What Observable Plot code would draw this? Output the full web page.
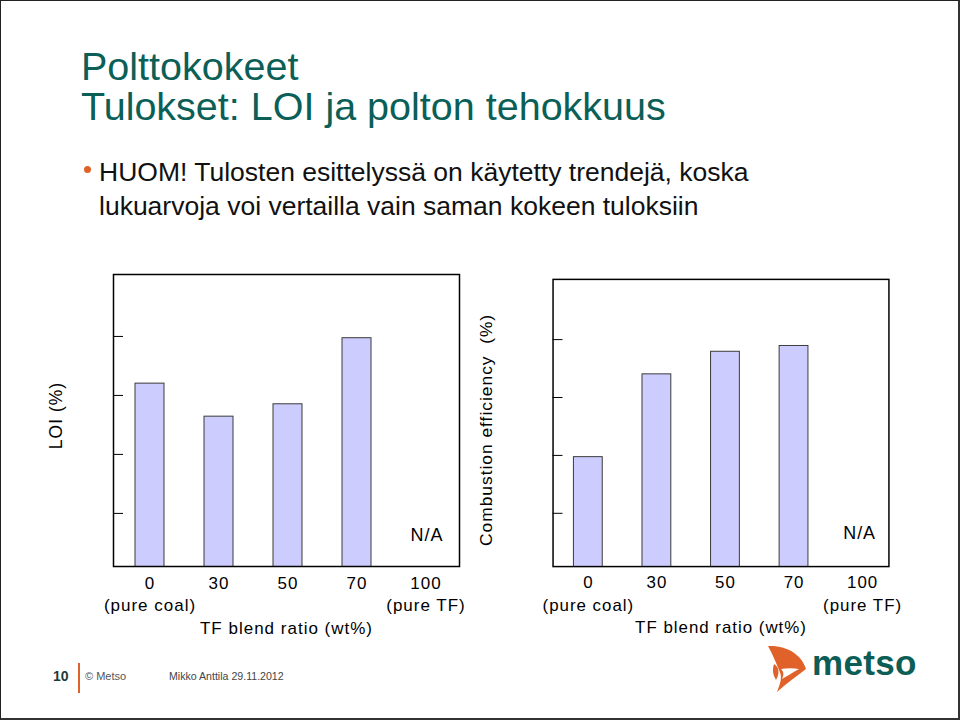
<!DOCTYPE html>
<html>
<head>
<meta charset="utf-8">
<script src="https://cdn.jsdelivr.net/npm/d3@7"></script>
<script src="https://cdn.jsdelivr.net/npm/@observablehq/plot@0.6"></script>
<style>
  html, body { margin: 0; padding: 0; background: #fff; }
  #page {
    position: relative; width: 960px; height: 720px; box-sizing: border-box;
    border: 1.5px solid #222; border-right: 2px solid #333; border-bottom: 2px solid #333;
    font-family: "Liberation Sans", Arial, sans-serif; overflow: hidden; background: #fff;
  }
  .abs { position: absolute; white-space: nowrap; }
  #title { left: 80px; top: 45px; font-size: 39.5px; line-height: 40px; color: #0b5f57; }
  #bullet { left: 98px; top: 154px; font-size: 26.5px; line-height: 34px; color: #111; }
  #dot { left: 83px; top: 165px; width: 7px; height: 7px; border-radius: 50%; background: #e0622a; }
  #chartL { left: 0px; top: 260px; }
  #chartR { left: 480px; top: 260px; }
  #pnum { left: 52px; top: 667px; font-size: 14px; font-weight: bold; color: #1d3b38; }
  #vline { left: 77px; top: 662px; width: 1.5px; height: 30px; background: #e0622a; }
  #copy { left: 84px; top: 669px; font-size: 11px; color: #555; }
  #author { left: 168px; top: 669px; font-size: 10.6px; color: #444; }
  #logoText { left: 811px; top: 642px; font-size: 35px; font-weight: bold; color: #0b5d55; letter-spacing: 0.3px; }
  #logoMark { left: 760px; top: 640px; }
</style>
</head>
<body>
<div id="page">
  <div id="title" class="abs">Polttokokeet<br>Tulokset: LOI ja polton tehokkuus</div>
  <div id="dot" class="abs"></div>
  <div id="bullet" class="abs">HUOM! Tulosten esittelyssä on käytetty trendejä, koska<br>lukuarvoja voi vertailla vain saman kokeen tuloksiin</div>
  <div id="chartL" class="abs"></div>
  <div id="chartR" class="abs"></div>
  <div id="pnum" class="abs">10</div>
  <div id="vline" class="abs"></div>
  <div id="copy" class="abs">© Metso</div>
  <div id="author" class="abs">Mikko Anttila 29.11.2012</div>
  <svg id="logoMark" class="abs" width="50" height="55" viewBox="0 0 50 55">
    <path d="M7,5 C26,4 41,14 45,28 C36,35 26,42 16,51 C19,43 22,36 18,29 C15,22 12,14 7,5 Z" fill="#e0622a"/>
    <path d="M13,23 C18,26 19,32 15,39 C12,34 11,29 13,23 Z" fill="#e0622a"/>
    <path d="M20,28 C26,27 32,27 38,28 C31,32 26,35 21,38 C23,34 23,31 20,28 Z" fill="#fff"/>
  </svg>
  <div id="logoText" class="abs">metso</div>
</div>
<script>
// ---- data ----
const categories = ["0", "30", "50", "70", "100"];
const categorySubLabels = ["(pure coal)", "", "", "", "(pure TF)"];
const loiValues = [3.20, 2.64, 2.85, 3.97, null];
const efficiencyValues = [1.97, 3.40, 3.79, 3.89, null];
const yTicks = [1, 2, 3, 4];
const missingText = "N/A";
const xLabel = "TF blend ratio (wt%)";
const loiLabel = "LOI (%)";
const effLabel = "Combustion efficiency  (%)";

function tickText(d) {
  const i = categories.indexOf(d);
  return categorySubLabels[i] ? d + "\n" + categorySubLabels[i] : d;
}

function makeChart(cfg) {
  const values = cfg.values;
  return Plot.plot({
    width: 480,
    height: 400,
    marginLeft: cfg.marginLeft,
    marginRight: cfg.marginRight,
    marginTop: cfg.marginTop,
    marginBottom: cfg.marginBottom,
    style: {
      fontFamily: "'Liberation Sans', Arial, sans-serif",
      fontSize: "17px",
      letterSpacing: "1px",
      color: "#000",
      background: "transparent",
      overflow: "visible"
    },
    x: { type: "band", domain: categories, range: cfg.xRange, padding: 0 },
    y: { domain: cfg.yDomain },
    marks: [
      Plot.barY(categories, {
        x: d => d,
        y: (d, i) => values[i],
        filter: (d, i) => values[i] != null,
        fill: "#ccccff",
        stroke: "#3a3a3a",
        strokeWidth: 1,
        insetLeft: 20,
        insetRight: 20,
        clip: true
      }),
      Plot.text(categories, {
        filter: (d, i) => values[i] == null,
        x: d => d,
        text: () => missingText,
        frameAnchor: "bottom",
        dy: cfg.naDy,
        dx: cfg.naDx,
        fontSize: 18,
        fill: "#000"
      }),
      Plot.axisY(yTicks, {
        anchor: "left",
        tickSize: -10,
        tickFormat: () => "",
        stroke: "#000",
        label: null
      }),
      Plot.text([cfg.yLabel], {
        text: d => d,
        frameAnchor: "left",
        rotate: -90,
        textAnchor: "middle",
        dx: cfg.yLabelDx,
        dy: cfg.yLabelDy,
        fontSize: 17.5,
        fill: "#000"
      }),
      Plot.axisX({
        anchor: "bottom",
        tickSize: 0,
        tickPadding: 6,
        tickFormat: tickText,
        lineHeight: 1.33,
        label: xLabel,
        labelAnchor: "center",
        labelArrow: "none",
        labelOffset: 67
      }),
      Plot.frame({ stroke: "#000", strokeWidth: 1.5 })
    ]
  });
}

document.getElementById("chartL").appendChild(makeChart({
  values: loiValues,
  marginLeft: 112, marginRight: 22, marginTop: 13, marginBottom: 95,
  xRange: [113, 460.5],
  yDomain: [0.1, 5.05],
  yLabel: loiLabel,
  yLabelDx: -57, yLabelDy: -5,
  naDy: -26, naDx: 1
}));

document.getElementById("chartR").appendChild(makeChart({
  values: efficiencyValues,
  marginLeft: 72, marginRight: 70, marginTop: 18, marginBottom: 93,
  xRange: [72.5, 417.5],
  yDomain: [0.08, 5.04],
  yLabel: effLabel,
  yLabelDx: -67, yLabelDy: 7,
  naDy: -28, naDx: -3
}));
</script>
</body>
</html>
